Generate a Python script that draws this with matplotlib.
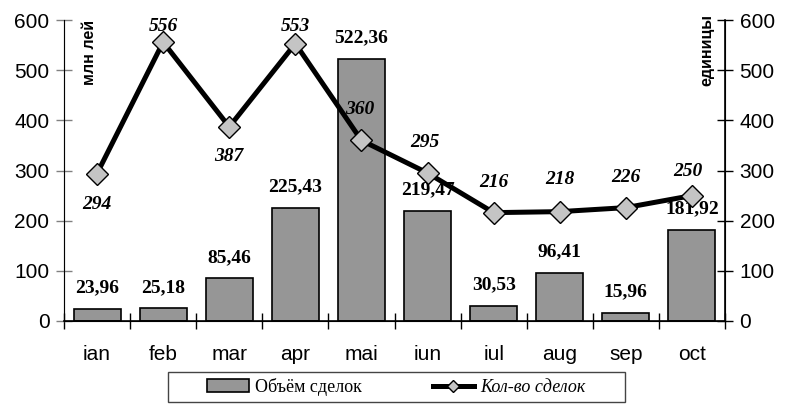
import matplotlib
matplotlib.use("Agg")
import matplotlib.pyplot as plt
from matplotlib.patches import Rectangle
import numpy as np

# data
months = ["ian", "feb", "mar", "apr", "mai", "iun", "iul", "aug", "sep", "oct"]
volume = [23.96, 25.18, 85.46, 225.43, 522.36, 219.47, 30.53, 96.41, 15.96, 181.92]
deals = [294, 556, 387, 553, 360, 295, 216, 218, 226, 250]

# label offsets for the line values (points)
deal_offsets = [(0, -22), (0, 11), (0, -21), (0, 12), (-1, 22),
                (-2, 22), (0, 22), (0, 23), (0, 22), (-3, 17)]

sans = "Liberation Sans"
serif = "Liberation Serif"

fig = plt.figure(figsize=(7.9, 4.07), dpi=100)
ax = fig.add_axes([64 / 790, 1 - 321 / 407, 661 / 790, 301 / 407])
ax2 = ax.twinx()

x = np.arange(len(months))
ax.bar(x, volume, width=0.71, color="#969696", edgecolor="black", linewidth=1.2,
       label="Объём сделок", zorder=2)
for xi, v in zip(x, volume):
    ax.annotate(f"{v:.2f}".replace(".", ","), (xi, v), xytext=(0, 15),
                textcoords="offset points", ha="center", va="center",
                fontsize=14, fontweight="bold", family=serif)

ax2.plot(x, deals, color="black", linewidth=3.6, marker="D", markersize=11,
         markerfacecolor="#c4c4c4", markeredgecolor="black", markeredgewidth=1.0,
         label="Кол-во сделок", zorder=3)
for xi, d, off in zip(x, deals, deal_offsets):
    ax2.annotate(str(d), (xi, d), xytext=off, textcoords="offset points",
                 ha="center", va="center", fontsize=14, fontweight="bold",
                 fontstyle="italic", family=serif)

for a in (ax, ax2):
    a.set_ylim(0, 600)
    a.set_yticks(range(0, 601, 100))
    a.set_xlim(-0.5, len(months) - 0.5)
    a.spines["top"].set_visible(False)
    a.tick_params(axis="y", direction="inout", length=11, width=1, pad=5,
                  labelsize=15)
    for t in a.get_yticklabels():
        t.set_family(sans)

ax.spines["left"].set_color("#808080")
ax.tick_params(axis="y", colors="#808080", labelcolor="black")
ax.spines["bottom"].set_linewidth(1.2)
ax2.spines["right"].set_linewidth(1.2)

ax.set_xticks(x)
ax.set_xticklabels(months, family=sans, fontsize=15)
ax.tick_params(axis="x", length=0, pad=17)
ax.set_xticks(np.arange(-0.5, len(months) + 0.5, 1), minor=True)
ax.tick_params(axis="x", which="minor", direction="inout", length=11, width=1)

ax.set_zorder(ax2.get_zorder() - 1)
ax.patch.set_visible(True)
ax2.patch.set_visible(False)

ax.text(0.039, 1.0, "млн лей", transform=ax.transAxes, rotation=90,
        ha="center", va="top", fontsize=11.5, fontweight="bold", family=sans)
ax.text(0.973, 1.02, "единицы", transform=ax.transAxes, rotation=90,
        ha="center", va="top", fontsize=11.5, fontweight="bold", family=sans)

# legend: entries without frame, box drawn separately
h1, l1 = ax.get_legend_handles_labels()
h2, l2 = ax2.get_legend_handles_labels()
leg = fig.legend(h1 + h2, l1 + l2, ncol=2, loc="center",
                 bbox_to_anchor=(396.5 / 790, 1 - 387 / 407),
                 frameon=False, handlelength=2.3, handletextpad=0.35,
                 columnspacing=3.9, markerscale=0.6,
                 prop={"family": serif, "size": 13})
leg.get_texts()[1].set_fontstyle("italic")
fig.patches.append(Rectangle((168 / 790, 1 - 402 / 407), 457 / 790, 30 / 407,
                             transform=fig.transFigure, fill=False,
                             edgecolor="#444444", linewidth=1.0))

fig.savefig("out.png", dpi=100)
